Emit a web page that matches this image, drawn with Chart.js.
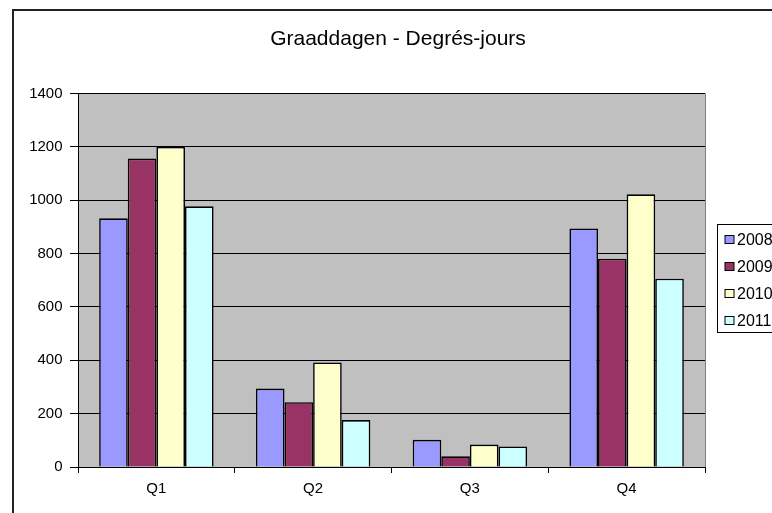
<!DOCTYPE html>
<html>
<head>
<meta charset="utf-8">
<script src="https://cdn.jsdelivr.net/npm/chart.js@4.4.1/dist/chart.umd.min.js"></script>
<style>
  html, body { margin: 0; padding: 0; background: #fff; overflow: hidden; width: 772px; height: 513px; }
  #wrap { position: absolute; left: 0; top: 0; width: 800px; height: 540px; }
  canvas { display: block; }
</style>
</head>
<body>
<div id="wrap"><canvas id="c" width="800" height="540" style="width:800px;height:540px"></canvas></div>
<script>
// ---- data ----
const chartTitle = 'Graaddagen - Degrés-jours';
const categories = ['Q1', 'Q2', 'Q3', 'Q4'];
const seriesNames = ['2008', '2009', '2010', '2011'];
const values2008 = [932, 294, 102, 894];
const values2009 = [1156, 243, 40, 781];
const values2010 = [1200, 392, 84, 1022];
const values2011 = [977, 176, 77, 706];
const yTickValues = [0, 200, 400, 600, 800, 1000, 1200, 1400];

// ---- styles ----
const seriesColors = ['#9999FF', '#993366', '#FFFFCC', '#CCFFFF'];
const FONT = '"Liberation Sans", Arial, sans-serif';

const seriesValues = [values2008, values2009, values2010, values2011];

const framePlugin = {
  id: 'frame',
  beforeDraw(chart) {
    const ctx = chart.ctx;
    const ca = chart.chartArea;
    ctx.save();
    ctx.fillStyle = '#ffffff';
    ctx.fillRect(0, 0, chart.width, chart.height);
    ctx.strokeStyle = '#222';
    ctx.lineWidth = 2;
    ctx.strokeRect(13, 10, chart.width + 20, chart.height + 20);
    ctx.fillStyle = '#C0C0C0';
    ctx.fillRect(ca.left, ca.top, ca.right - ca.left, ca.bottom - ca.top);
    ctx.strokeStyle = '#808080';
    ctx.lineWidth = 1;
    ctx.beginPath();
    ctx.moveTo(ca.right + 0.5, ca.top);
    ctx.lineTo(ca.right + 0.5, ca.bottom);
    ctx.stroke();
    ctx.restore();
  }
};

const legendPlugin = {
  id: 'boxLegend',
  afterDraw(chart) {
    const ctx = chart.ctx;
    const ca = chart.chartArea;
    const cy = (ca.top + ca.bottom) / 2;
    const step = 27;
    const left = ca.right + 12.5;
    ctx.save();
    ctx.strokeStyle = '#000';
    ctx.lineWidth = 1;
    ctx.strokeRect(left, Math.round(cy - 56) + 0.5, 200, 108);
    ctx.font = '16px ' + FONT;
    ctx.textBaseline = 'middle';
    ctx.textAlign = 'left';
    chart.data.datasets.forEach((ds, i) => {
      const y = cy + (i - 1.5) * step;
      const mx = left + 7.5;
      const my = Math.round(y - 4.5) + 0.5;
      ctx.fillStyle = ds.backgroundColor;
      ctx.fillRect(mx, my, 9, 8);
      ctx.strokeStyle = '#000';
      ctx.strokeRect(mx, my, 9, 8);
      ctx.fillStyle = '#000';
      ctx.fillText(ds.label, left + 19.5, y + 0.5);
    });
    ctx.restore();
  }
};

new Chart(document.getElementById('c'), {
  type: 'bar',
  data: {
    labels: categories,
    datasets: seriesNames.map((name, i) => ({
      label: name,
      data: seriesValues[i],
      backgroundColor: seriesColors[i],
      borderColor: '#000',
      borderWidth: 1.6,
      categoryPercentage: 0.73,
      barPercentage: 1.0
    }))
  },
  options: {
    responsive: false,
    devicePixelRatio: 1,
    animation: false,
    layout: { padding: { top: 0, left: 0, right: 4, bottom: 23 } },
    plugins: {
      legend: { display: false },
      tooltip: { enabled: false },
      title: {
        display: true,
        text: chartTitle,
        color: '#000',
        font: { family: FONT, size: 21, weight: 'normal' },
        padding: { top: 27, bottom: 41.3 }
      }
    },
    scales: {
      x: {
        grid: { display: true, offset: true, drawOnChartArea: false, drawTicks: true, tickLength: 6, color: '#000', lineWidth: 1 },
        border: { display: true, color: '#000', width: 1 },
        ticks: { color: '#000', font: { family: FONT, size: 15 }, padding: 7 },
        afterFit(s) { s.height = 50; }
      },
      y: {
        min: 0,
        max: 1400,
        afterBuildTicks(s) { s.ticks = yTickValues.map(v => ({ value: v })); },
        grid: { color: '#000', lineWidth: 1, drawTicks: true, tickLength: 8 },
        border: { display: true, color: '#000', width: 1 },
        ticks: { color: '#000', font: { family: FONT, size: 15 }, padding: 7.5, callback: (v) => String(v) },
        afterFit(s) { s.width = 78; }
      },
      yPad: {
        type: 'linear',
        position: 'right',
        display: true,
        grid: { display: false },
        border: { display: false },
        ticks: { display: false },
        afterFit(s) { s.width = 91; }
      }
    }
  },
  plugins: [framePlugin, legendPlugin]
});
</script>
</body>
</html>
